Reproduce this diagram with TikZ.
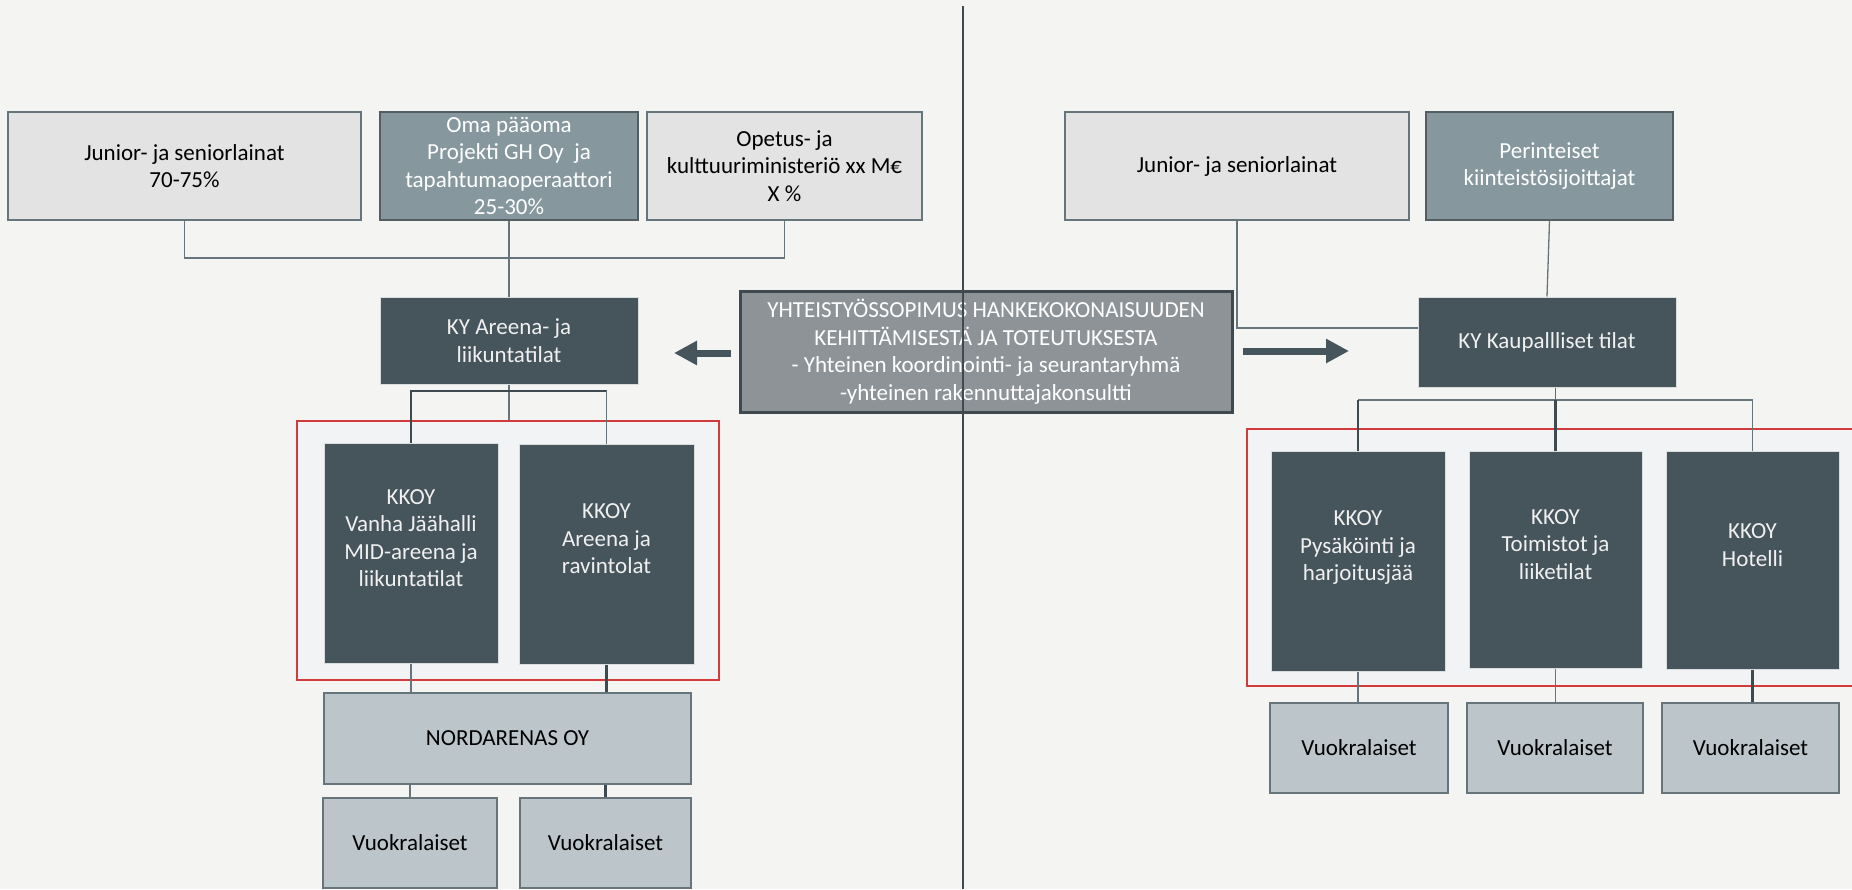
\documentclass[tikz,border=0pt]{standalone}
\usepackage{fontspec}
\setmainfont{Carlito}
\usepackage{tikz}
\usetikzlibrary{shapes}
\usetikzlibrary{arrows.meta}
\definecolor{tausta}{HTML}{F4F4F2}
\definecolor{vaalea}{HTML}{E3E3E3}
\definecolor{keski}{HTML}{86989E}
\definecolor{tumma}{HTML}{46545C}
\definecolor{sini}{HTML}{BCC6CA}
\definecolor{yhteis}{HTML}{8E9397}
\definecolor{reuna}{HTML}{66757B}
\definecolor{viiva}{HTML}{3E4A50}
\definecolor{punainen}{HTML}{D23B3B}
\definecolor{kehys}{HTML}{F2F3F5}
\tikzset{
	org/.style = {align=center, inner sep=0pt, text centered,
		font=\fontsize{23}{27.5}\selectfont, line width=1.5pt},
	koko/.style 2 args = {minimum width=#1pt, minimum height=#2pt},
	ylos/.style = {execute at end node={\rule[-30pt]{0pt}{30pt}}},% teksti hieman ylempana
	org_v/.style = {org, rectangle, draw=reuna, fill=vaalea, text=black},% rahoittaja, vaalea
	org_k/.style = {org, rectangle, draw=reuna!80!black, fill=keski, text=white},% oma paaoma
	org_t/.style = {org, rectangle, draw=white!80!tumma, line width=1pt,
		fill=tumma, text=white!94!black},% yhtiot, tumma
	org_s/.style = {org, rectangle, draw=reuna, fill=sini, text=black},% vuokralaiset
	org_y/.style = {org, rectangle, draw=viiva, line width=3pt,
		fill=yhteis, text=white},% yhteistyosopimus
	kehys_r/.style = {rectangle, draw=punainen, fill=kehys, line width=1.5pt},% punainen kehys
	conn/.style = {draw=reuna, line width=1.3pt},
	conn_d/.style = {draw=viiva, line width=2.2pt},
	nuoli/.style = {draw=tumma, line width=7pt, -{Triangle[length=23pt,width=23pt]}}
}
\begin{document}
\begin{tikzpicture}[x=1pt, y=-1pt]
	\useasboundingbox (0,0) rectangle (1852,889);
	\fill[tausta] (0,0) rectangle (1852,889);
	% kehykset
	\node[kehys_r, koko={422}{259}] (fl) at (508,550.5) {};
	\node[kehys_r, koko={640}{257}] (fr) at (1567,557.5) {};
	% vasen puoli
	\node[org_v, koko={353}{108}] (jl) at (184.5,166) {Junior- ja seniorlainat\\70-75\%};
	\node[org_k, koko={258}{108}] (oma) at (509,166)
		{Oma pääoma\\Projekti GH Oy\ \ ja\\tapahtumaoperaattori\\25-30\%};
	\node[org_v, koko={275}{108}] (ope) at (784.5,166)
		{Opetus- ja\\kulttuuriministeriö xx M€\\X \%};
	\node[org_t, koko={258}{87}] (kya) at (509,340.5) {KY Areena- ja\\liikuntatilat};
	\node[org_t, ylos, koko={174}{220}] (kv) at (411,553)
		{KKOY\\Vanha Jäähalli\\MID-areena ja\\liikuntatilat};
	\node[org_t, ylos, koko={175}{220}] (ka) at (606.5,554) {KKOY\\Areena ja\\ravintolat};
	\node[org_s, koko={367}{91}] (nord) at (507.5,738.5) {NORDARENAS OY};
	\node[org_s, koko={174}{90}] (vl1) at (410,843) {Vuokralaiset};
	\node[org_s, koko={171}{90}] (vl2) at (605.5,843) {Vuokralaiset};
	% keskella
	\node[org_y, koko={492}{121}] (yht) at (986,351.5)
		{YHTEISTYÖSSOPIMUS HANKEKOKONAISUUDEN\\KEHITTÄMISESTÄ JA TOTEUTUKSESTA\\
		- Yhteinen koordinointi- ja seurantaryhmä\\-yhteinen rakennuttajakonsultti};
	% oikea puoli
	\node[org_v, koko={344}{108}] (jr) at (1237,166) {Junior- ja seniorlainat};
	\node[org_k, koko={247}{108}] (per) at (1549.5,166) {Perinteiset\\kiinteistösijoittajat};
	\node[org_t, koko={258}{90}] (kyk) at (1547,342) {KY Kaupallliset tilat};
	\node[org_t, ylos, koko={174}{220}] (kp) at (1358,561) {KKOY\\Pysäköinti ja\\harjoitusjää};
	\node[org_t, ylos, koko={173}{217}] (kt) at (1555.5,559.5) {KKOY\\Toimistot ja\\liiketilat};
	\node[org_t, ylos, koko={173}{218}] (kh) at (1752.5,560) {KKOY\\Hotelli};
	\node[org_s, koko={178}{90}] (vr1) at (1359,748) {Vuokralaiset};
	\node[org_s, koko={176}{90}] (vr2) at (1555,748) {Vuokralaiset};
	\node[org_s, koko={177}{90}] (vr3) at (1750.5,748) {Vuokralaiset};
	% yhteydet
	\coordinate (yt) at (0,258);
	\coordinate (yl) at (0,391);
	\coordinate (yr) at (0,400);
	\draw[conn] (jl.south) |- (ope.south |- yt) -- (ope.south);
	\draw[conn] (oma.south) -- (kya.north);
	\draw[conn] (kya.south) -- (kya.south |- fl.north);
	\draw[conn_d] (kv.north) |- (ka.north |- yl);
	\draw[conn] (ka.north |- yl) -- (ka.north);
	\draw[conn] (kv.south) -- (kv.south |- nord.north);
	\draw[conn_d] (ka.south) -- (ka.south |- nord.north);
	\draw[conn] (vl1.north |- nord.south) -- (vl1.north);
	\draw[conn_d] (vl2.north |- nord.south) -- (vl2.north);
	\draw[conn] (jr.south) |- ([yshift=14pt]kyk.west);
	\draw[conn] (per.south) -- (kyk.north);
	\draw[draw=punainen, line width=1.5pt] (kt.north |- kyk.south) -- (kt.north |- yr);
	\draw[conn] (kp.north |- yr) -- (kh.north |- yr) -- (kh.north);
	\draw[conn_d] (kp.north |- yr) -- (kp.north);
	\draw[conn_d] (kt.north |- yr) -- (kt.north);
	\draw[conn] (kp.south) -- (kp.south |- vr1.north);
	\draw[conn] (kt.south) -- (kt.south |- vr2.north);
	\draw[conn_d] (kh.south) -- (kh.south |- vr3.north);
	% nuolet
	\coordinate (la1) at (731,353);
	\coordinate (la2) at (674,353);
	\coordinate (ra1) at (1243,351);
	\coordinate (ra2) at (1349,351);
	\draw[nuoli] (la1) -- (la2);
	\draw[nuoli] (ra1) -- (ra2);
	% jakoviiva
	\draw[draw=viiva, line width=2.5pt] (963,6) -- (963,889);
\end{tikzpicture}
\end{document}
